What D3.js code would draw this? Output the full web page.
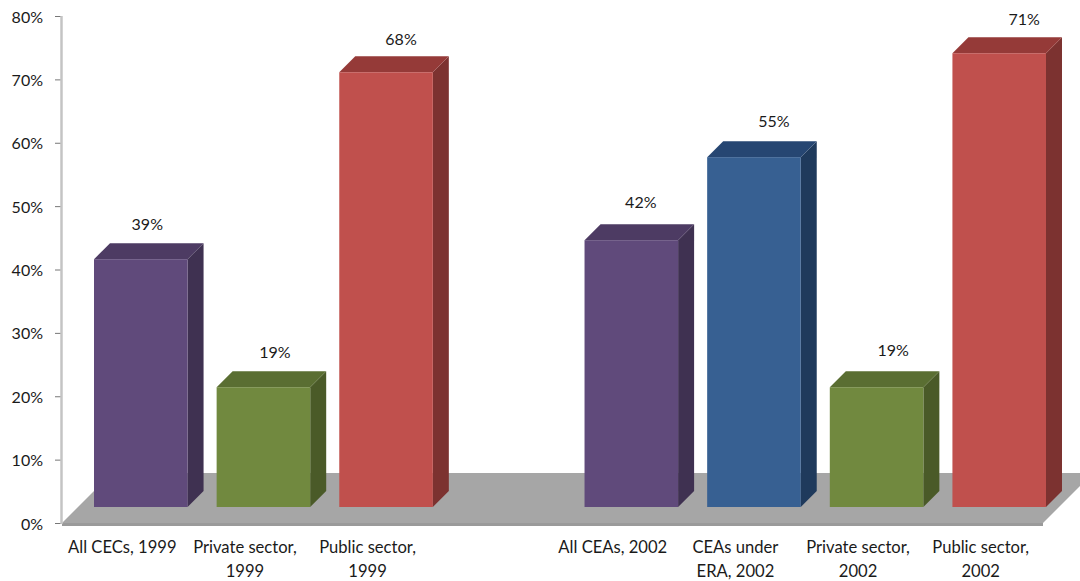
<!DOCTYPE html>
<html>
<head>
<meta charset="utf-8">
<script src="https://cdn.jsdelivr.net/npm/d3@7"></script>
<style>
  html, body { margin: 0; padding: 0; background: #fff; }
  svg { display: block; }
  text { font-family: Lato, "Open Sans", sans-serif; font-size: 16px; fill: #1a1a1a; }
  text.cat { font-size: 16.6px; }
</style>
</head>
<body>
<div id="chart"></div>
<script>
const width = 1080, height = 581;

// empty "gap" slot keeps the two groups apart
const categories = ["cec", "private99", "public99", "gap", "cea", "era", "private02", "public02"];
const barCategories = ["cec", "private99", "public99", "cea", "era", "private02", "public02"];
// bar heights as measured on the picture (the 3d chart draws them a little off the labels)
const barValues = [39.1, 18.9, 68.6, 42.1, 55.2, 18.9, 71.6];
const dataLabels = ["39%", "19%", "68%", "42%", "55%", "19%", "71%"];
const catLabels = [
  ["All CECs, 1999"], ["Private sector,", "1999"], ["Public sector,", "1999"],
  ["All CEAs, 2002"], ["CEAs under", "ERA, 2002"], ["Private sector,", "2002"], ["Public sector,", "2002"]
];
const barColorKeys = ["purple", "green", "red", "purple", "blue", "green", "red"];
const yTicks = [0, 10, 20, 30, 40, 50, 60, 70, 80];

const colors = {
  purple: {front: "#604a7b", side: "#3f3151", top: "#4d3b63"},
  green:  {front: "#71893f", side: "#4a5a28", top: "#5a6e32"},
  red:    {front: "#c0504d", side: "#7c3230", top: "#953a38"},
  blue:   {front: "#376092", side: "#1f3a5c", top: "#264672"}
};

const depthX = 16, depthY = 16, liftY = 16;   // bar depth + how far bars sit above the floor front
const floorDepth = 50;
// the value labels don't sit at a constant spot over the bars in the original
const labelDx = [6.5, 11.5, 15, 9.5, 20, 16.5, 25];
const labelDy = [-29, -29, -27, -32, -30, -31, -28];

let svg = d3.select("#chart").append("svg")
    .attr("width", width)
    .attr("height", height);

let y = d3.scaleLinear().domain([0, 80]).range([523, 16]);
let x = d3.scaleBand().domain(categories).range([94, 1046]).paddingInner(0.237).paddingOuter(0);
let xLabel = d3.scaleBand().domain(categories).range([61, 1042]);

// floor
let floorL = 62, floorR = 1043;
svg.append("polygon")
    .attr("fill", "#a6a6a6")
    .attr("points", [
      [floorL, y(0)], [floorL + floorDepth, y(0) - floorDepth],
      [floorR + floorDepth, y(0) - floorDepth], [floorR, y(0)]
    ].join(" "));
svg.append("rect")
    .attr("x", floorL)
    .attr("y", y(0))
    .attr("width", floorR - floorL)
    .attr("height", 3)
    .attr("fill", "#9a9a9a");

// y axis
let yAxis = d3.axisLeft(y).tickValues(yTicks).tickFormat(d => d + "%").tickSize(6).tickPadding(12);
let yG = svg.append("g")
    .attr("transform", "translate(61,0)")
    .call(yAxis);
yG.select(".domain").remove();
yG.selectAll(".tick line").attr("stroke", "#777");
yG.selectAll(".tick text").attr("text-anchor", "end").attr("fill", "#1a1a1a").attr("dy", "0.38em");
svg.append("line")
    .attr("x1", 61.5).attr("x2", 61.5)
    .attr("y1", y(80)).attr("y2", y(0) + 1)
    .attr("stroke", "#c4c4c4")
    .attr("stroke-width", 2.5);

// bars
let bars = svg.selectAll("g.bar")
    .data(barCategories)
    .enter().append("g")
    .attr("class", "bar");

let bw = x.bandwidth();
let base = y(0) - liftY;
let topOf = i => y(barValues[i]) - liftY;

bars.append("polygon")
    .attr("fill", (d, i) => colors[barColorKeys[i]].side)
    .attr("points", (d, i) => {
      let r = x(d) + bw, t = topOf(i);
      return [[r, t], [r + depthX, t - depthY], [r + depthX, base - depthY], [r, base]].join(" ");
    });

bars.append("polygon")
    .attr("fill", (d, i) => colors[barColorKeys[i]].top)
    .attr("points", (d, i) => {
      let l = x(d), t = topOf(i);
      return [[l, t], [l + depthX, t - depthY], [l + bw + depthX, t - depthY], [l + bw, t]].join(" ");
    });

bars.append("rect")
    .attr("x", d => x(d))
    .attr("y", (d, i) => topOf(i))
    .attr("width", bw)
    .attr("height", (d, i) => base - topOf(i))
    .attr("fill", (d, i) => colors[barColorKeys[i]].front);

// value labels
bars.append("text")
    .attr("x", (d, i) => x(d) + bw / 2 + labelDx[i])
    .attr("y", (d, i) => topOf(i) + labelDy[i])
    .attr("text-anchor", "middle")
    .text((d, i) => dataLabels[i]);

// category labels
let labels = svg.selectAll("text.cat")
    .data(barCategories)
    .enter().append("text")
    .attr("class", "cat")
    .attr("text-anchor", "middle");

labels.selectAll("tspan")
    .data((d, i) => catLabels[i].map(line => ({line: line, key: d})))
    .enter().append("tspan")
    .attr("x", d => xLabel(d.key) + xLabel.bandwidth() / 2)
    .attr("y", (d, i) => 553 + i * 24)
    .text(d => d.line);
</script>
</body>
</html>
